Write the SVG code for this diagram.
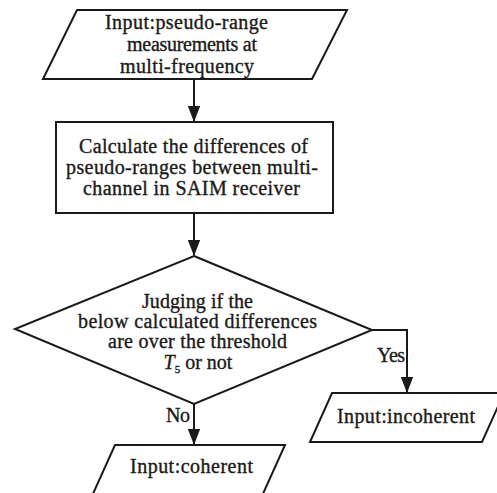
<svg xmlns="http://www.w3.org/2000/svg" width="497" height="493" viewBox="0 0 497 493">
<defs>
<marker id="arr" markerUnits="userSpaceOnUse" markerWidth="16" markerHeight="20" refX="17" refY="7" orient="auto" viewBox="0 0 18 14">
<path d="M0,0 L18,7 L0,14 Z" fill="#1a1a1a"/>
</marker>
<style>
.shape{fill:#fff;stroke:#1a1a1a;stroke-width:2;stroke-linejoin:miter}
.conn{fill:none;stroke:#1a1a1a;stroke-width:2}
text{font-family:"Liberation Serif","Times New Roman",serif;font-size:20px;fill:#1a1a1a;stroke:#1a1a1a;stroke-width:0.35;text-anchor:middle}
.lbl{text-anchor:start}
</style>
</defs>
<rect width="497" height="493" fill="#fff"/>
<g id="connectors">
<path class="conn" d="M194,79 V121" marker-end="url(#arr)"/>
<path class="conn" d="M194,213 V255" marker-end="url(#arr)"/>
<path class="conn" d="M372,330 H407 V392" marker-end="url(#arr)"/>
<path class="conn" d="M194,404 V444" marker-end="url(#arr)"/>
<text class="lbl" x="377" y="362" textLength="28">Yes</text>
<text class="lbl" x="166" y="422" textLength="24">No</text>
</g>
<g id="input">
<polygon class="shape" points="77,10 347,10 312,79 43,79"/>
<text x="186.5" y="29" textLength="163">Input:pseudo-range</text>
<text x="192" y="51" textLength="130">measurements at</text>
<text x="187" y="73" textLength="134">multi-frequency</text>
</g>
<g id="calculate">
<rect class="shape" x="56" y="122" width="277" height="91"/>
<text x="193.5" y="153" textLength="229">Calculate the differences of</text>
<text x="192" y="174" textLength="252">pseudo-ranges between multi-</text>
<text x="191.5" y="195" textLength="217">channel in SAIM receiver</text>
</g>
<g id="decision">
<polygon class="shape" points="194,256 372,330 194,404 15,329"/>
<text x="197.5" y="308" textLength="111">Judging if the</text>
<text x="197.5" y="328" textLength="239">below calculated differences</text>
<text x="197.5" y="348" textLength="179">are over the threshold</text>
<text x="198" y="369"><tspan font-style="italic">T</tspan><tspan font-size="11" dy="4">5</tspan><tspan dy="-4"> or not</tspan></text>
</g>
<g id="incoherent">
<polygon class="shape" points="332,393 504,393 482,442 310,442"/>
<text x="406" y="423" textLength="138">Input:incoherent</text>
</g>
<g id="coherent">
<polygon class="shape" points="115,445 285,445 262,496 92,496"/>
<text x="191.5" y="473" textLength="123">Input:coherent</text>
</g>
</svg>
